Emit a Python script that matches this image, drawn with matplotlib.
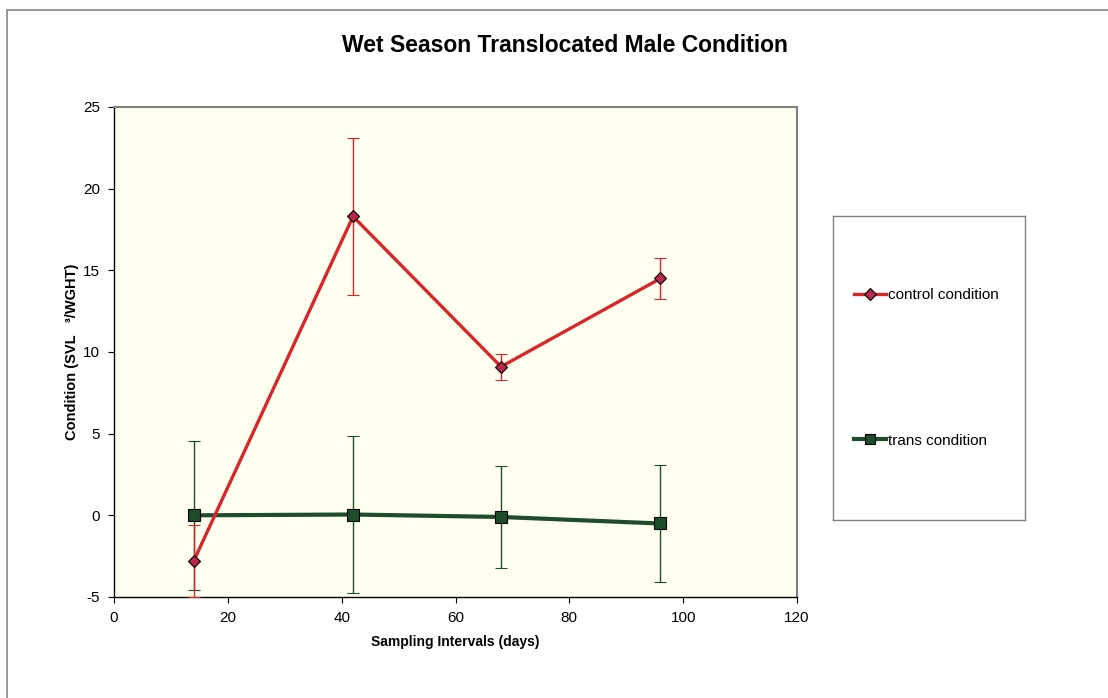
import matplotlib
matplotlib.use("Agg")
import matplotlib.pyplot as plt
from matplotlib.lines import Line2D
from matplotlib.patches import Rectangle

plt.rcParams['font.family'] = ['Liberation Sans', 'DejaVu Sans']
plt.rcParams['axes.unicode_minus'] = False

days = [14, 42, 68, 96]
control = [-2.8, 18.3, 9.1, 14.5]
control_err = [2.2, 4.8, 0.8, 1.25]
trans = [0.0, 0.05, -0.1, -0.5]
trans_err = [4.55, 4.8, 3.1, 3.6]

x_ticks = [0, 20, 40, 60, 80, 100, 120]
y_ticks = [-5, 0, 5, 10, 15, 20, 25]

red = '#D8262A'
red_fill = '#B8284A'
green = '#1E4D2B'

fig = plt.figure(figsize=(11.08, 6.98), dpi=100)
fig.patch.set_facecolor('white')

# outer frame (left and top edges visible)
fig.patches.append(Rectangle((7/1108, -0.05), 1.2, (698-10)/698 + 0.05,
                             transform=fig.transFigure, fill=False,
                             edgecolor='#888888', linewidth=1.2))

ax = fig.add_axes([114/1108, 1 - 597/698, (797-114)/1108, (597-107)/698])
ax.set_facecolor('#FFFFF0')

ax.errorbar(days, trans, yerr=trans_err, color=green, linewidth=3.0,
            marker='s', markersize=8, markerfacecolor=green,
            markeredgecolor='black', markeredgewidth=0.8,
            ecolor=green, elinewidth=1.0, capsize=4, capthick=2.2, zorder=3)
ax.errorbar(days, control, yerr=control_err, color=red, linewidth=2.4,
            marker='D', markersize=6.5, markerfacecolor=red_fill,
            markeredgecolor='black', markeredgewidth=0.8,
            ecolor=red, elinewidth=1.0, capsize=4, capthick=1.8, zorder=4)

ax.set_xlim(0, 120)
ax.set_ylim(-5, 25)
ax.set_xticks(x_ticks)
ax.set_yticks(y_ticks)
ax.tick_params(axis='both', direction='out', length=4, labelsize=11, pad=6)
for s in ['left', 'bottom']:
    ax.spines[s].set_color('black')
    ax.spines[s].set_linewidth(1.0)
for s in ['top', 'right']:
    ax.spines[s].set_color('#808080')
    ax.spines[s].set_linewidth(1.5)

ax.set_xlabel('Sampling Intervals (days)', fontsize=10, fontweight='bold', labelpad=7)
ax.set_ylabel('Condition (SVL   \u00b3/WGHT)', fontsize=10.5, fontweight='bold', labelpad=3)

fig.text(565/1108, 1 - 46/698, 'Wet Season Translocated Male Condition',
         ha='center', va='center', fontsize=16.5, fontweight='bold')

# legend box
lax = fig.add_axes([833/1108, 1 - 520/698, (1025-833)/1108, (520-216)/698])
lax.set_facecolor('white')
lax.set_xticks([])
lax.set_yticks([])
for s in lax.spines.values():
    s.set_color('#808080')
    s.set_linewidth(1.0)
handles = [
    Line2D([], [], color=red, linewidth=2.4, marker='D', markersize=6,
           markerfacecolor=red_fill, markeredgecolor='black', markeredgewidth=0.8),
    Line2D([], [], color=green, linewidth=3.0, marker='s', markersize=7,
           markerfacecolor=green, markeredgecolor='black', markeredgewidth=0.8),
]
labels = ['control condition', 'trans condition']
lax.legend(handles, labels, loc='center left', frameon=False, fontsize=11,
           labelspacing=8.6, handlelength=2.1, handletextpad=0.15,
           borderaxespad=0, borderpad=0,
           bbox_to_anchor=(0.11, 0.5))

fig.savefig('out.png', dpi=100)
